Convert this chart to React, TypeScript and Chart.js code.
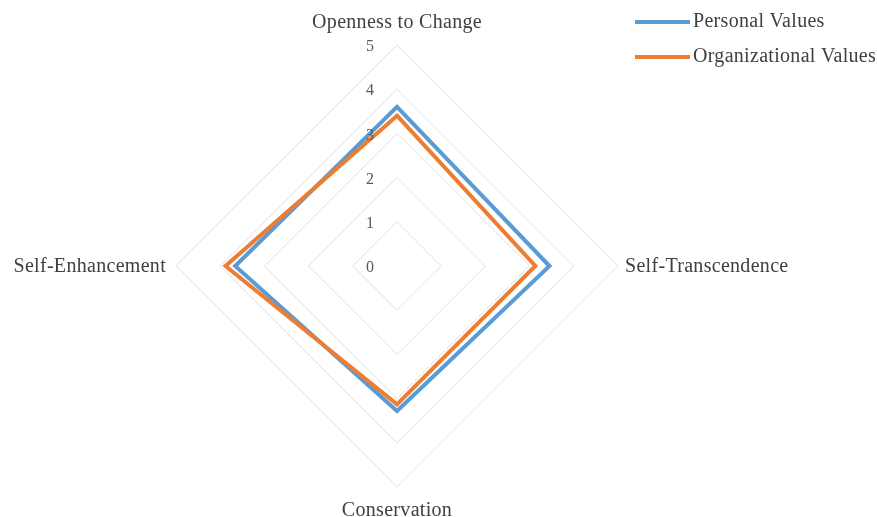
import React, { useEffect, useRef } from "react";
import { Chart, registerables } from "chart.js";

Chart.register(...registerables);

const categories = ["Openness to Change", "Self-Transcendence", "Conservation", "Self-Enhancement"];
const personalValues = [3.6, 3.45, 3.28, 3.66];
const organizationalValues = [3.4, 3.13, 3.13, 3.88];
const seriesNames = ["Personal Values", "Organizational Values"];
const seriesColors = ["#5B9BD5", "#ED7D31"];
const tickValues = [0, 1, 2, 3, 4, 5];

const FONT = "'Liberation Serif', 'Times New Roman', serif";

const labelPlugin = {
  id: "customLabels",
  afterDraw(chart: any) {
    const ctx = chart.ctx;
    const scale = chart.scales.r;
    ctx.save();
    ctx.font = `20px ${FONT}`;
    (ctx as any).letterSpacing = "0.3px";
    ctx.fillStyle = "#404040";
    const pads = [23, 7, 23, 10];
    chart.data.labels.forEach((lab: string, i: number) => {
      const p = scale.getPointPosition(i, scale.drawingArea + pads[i]);
      ctx.textBaseline = "middle";
      ctx.textAlign = i === 1 ? "left" : i === 3 ? "right" : "center";
      ctx.fillText(lab, p.x, p.y + 1);
    });
    // tick labels
    (ctx as any).letterSpacing = "0px";
    ctx.font = `16px ${FONT}`;
    ctx.fillStyle = "#595959";
    ctx.textAlign = "center";
    ctx.textBaseline = "middle";
    scale.ticks.forEach((t: any) => {
      const d = scale.getDistanceFromCenterForValue(t.value);
      ctx.fillText(String(t.value), scale.xCenter - 27, scale.yCenter - d + 2);
    });
    // legend
    ctx.font = `20px ${FONT}`;
    (ctx as any).letterSpacing = "0.3px";
    ctx.textAlign = "left";
    ctx.textBaseline = "middle";
    chart.data.datasets.forEach((ds: any, i: number) => {
      const y = 22 + i * 35;
      ctx.strokeStyle = ds.borderColor;
      ctx.lineWidth = 4;
      ctx.beginPath();
      ctx.moveTo(635, y);
      ctx.lineTo(690, y);
      ctx.stroke();
      ctx.fillStyle = "#404040";
      ctx.fillText(ds.label, 693, y);
    });
    ctx.restore();
  },
};

export default function App() {
  const ref = useRef<HTMLCanvasElement>(null);
  useEffect(() => {
    if (!ref.current) return;
    const chart = new Chart(ref.current, {
      type: "radar",
      data: {
        labels: categories,
        datasets: [
          {
            label: seriesNames[0],
            data: personalValues,
            borderColor: seriesColors[0],
            backgroundColor: seriesColors[0],
            borderWidth: 4,
            pointRadius: 0,
            fill: false,
            order: 1,
          },
          {
            label: seriesNames[1],
            data: organizationalValues,
            borderColor: seriesColors[1],
            backgroundColor: seriesColors[1],
            borderWidth: 4,
            pointRadius: 0,
            fill: false,
            order: 0,
          },
        ],
      },
      options: {
        animation: false,
        responsive: false,
        layout: { padding: { left: 175.5, right: 258.5, top: 45, bottom: 29 } },
        plugins: { legend: { display: false }, tooltip: { enabled: false } },
        scales: {
          r: {
            min: tickValues[0],
            max: tickValues[tickValues.length - 1],
            ticks: { stepSize: 1, display: false },
            grid: { color: "#ececec", lineWidth: 1.2 },
            angleLines: { display: false },
            pointLabels: { display: false },
          },
        },
      },
      plugins: [labelPlugin],
    });
    return () => chart.destroy();
  }, []);
  return (
    <div style={{ position: "absolute", left: 0, top: 0, width: 877, height: 517, background: "#fff" }}>
      <canvas ref={ref} width={877} height={517} />
    </div>
  );
}
